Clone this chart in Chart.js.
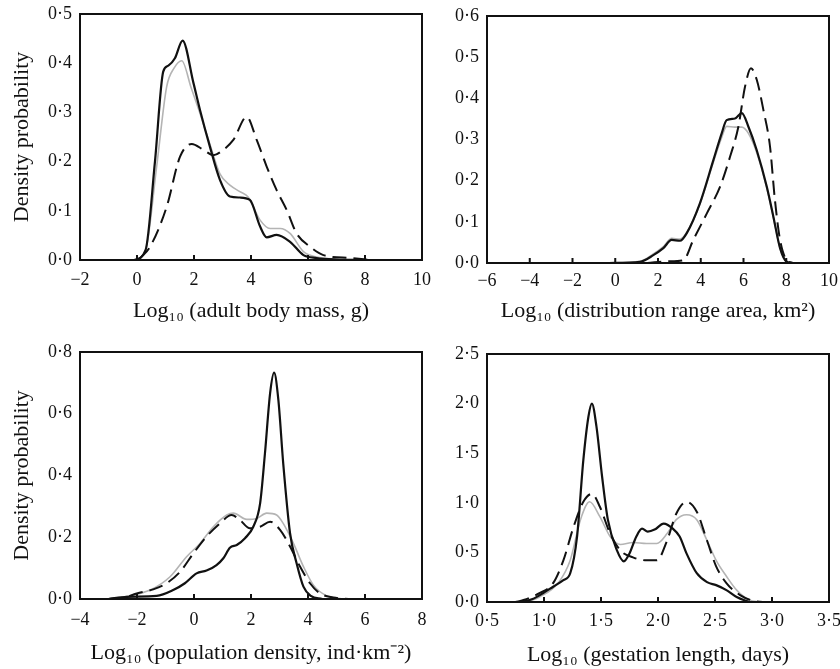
<!DOCTYPE html>
<html>
<head>
<meta charset="utf-8">
<script src="https://cdn.jsdelivr.net/npm/chart.js@4.4.0/dist/chart.umd.min.js"></script>
<style>
  html, body { margin: 0; padding: 0; background: #fff; }
  #wrap { position: relative; width: 840px; height: 669px; overflow: hidden; }
  canvas { position: absolute; }
</style>
</head>
<body>
<div id="wrap">
  <canvas id="c1" width="432" height="322" style="left:0;top:0"></canvas>
  <canvas id="c2" width="408" height="322" style="left:432px;top:0"></canvas>
  <canvas id="c3" width="432" height="347" style="left:0;top:322px"></canvas>
  <canvas id="c4" width="408" height="347" style="left:432px;top:322px"></canvas>
</div>
<script>
// Panel 1: adult body mass
var massSolidX = [-0.1, 0.3, 0.63, 0.92, 1.1, 1.33, 1.6, 1.98, 2.21, 2.56, 2.91, 3.26, 3.61, 3.96, 4.32, 4.55, 4.9, 5.37, 5.84, 6.3, 7.0, 8.0];
var massSolidY = [0, 0.02, 0.2, 0.383, 0.395, 0.41, 0.446, 0.36, 0.305, 0.23, 0.163, 0.129, 0.127, 0.122, 0.068, 0.046, 0.051, 0.037, 0.01, 0.004, 0.001, 0];
var massGreyX = [-0.1, 0.3, 0.69, 1.04, 1.3, 1.57, 1.9, 2.2, 2.56, 2.91, 3.26, 3.61, 3.9, 4.32, 4.67, 5.02, 5.37, 5.84, 6.3, 7.0, 8.0];
var massGreyY = [0, 0.02, 0.19, 0.352, 0.39, 0.405, 0.35, 0.3, 0.235, 0.175, 0.152, 0.139, 0.128, 0.081, 0.064, 0.064, 0.054, 0.017, 0.006, 0.002, 0];
var massDashX = [0.1, 0.46, 1.04, 1.51, 1.92, 2.33, 2.68, 3.03, 3.38, 3.85, 4.2, 4.55, 4.9, 5.25, 5.6, 6.07, 6.54, 7.5, 8.2];
var massDashY = [0.003, 0.027, 0.108, 0.21, 0.236, 0.224, 0.213, 0.224, 0.244, 0.291, 0.244, 0.19, 0.142, 0.102, 0.054, 0.027, 0.01, 0.004, 0];

// Panel 2: distribution range area
var rangeSolidX = [-0.3, 1.16, 1.78, 2.25, 2.64, 3.03, 3.34, 3.96, 4.59, 4.98, 5.21, 5.6, 5.92, 6.23, 6.62, 7.09, 7.4, 7.71, 8.02, 8.3];
var rangeSolidY = [0, 0.003, 0.019, 0.036, 0.056, 0.054, 0.072, 0.145, 0.25, 0.315, 0.347, 0.351, 0.364, 0.331, 0.274, 0.185, 0.112, 0.036, 0.003, 0];
var rangeGreyX = [-0.3, 1.16, 1.78, 2.25, 2.64, 3.03, 3.34, 3.96, 4.59, 4.98, 5.21, 5.6, 5.92, 6.23, 6.62, 7.09, 7.4, 7.71, 8.02, 8.3];
var rangeGreyY = [0, 0.004, 0.022, 0.04, 0.06, 0.058, 0.074, 0.143, 0.245, 0.305, 0.332, 0.33, 0.33, 0.315, 0.268, 0.182, 0.11, 0.036, 0.004, 0];
var rangeDashX = [1.5, 2.5, 3.19, 3.65, 4.28, 4.9, 5.37, 5.76, 6.07, 6.35, 6.62, 6.93, 7.24, 7.47, 7.71, 8.02, 8.3];
var rangeDashY = [0, 0.004, 0.007, 0.056, 0.12, 0.185, 0.258, 0.331, 0.428, 0.473, 0.445, 0.372, 0.283, 0.153, 0.056, 0.007, 0];

// Panel 3: population density
var popSolidX = [-3, -2.36, -1.31, -0.73, -0.32, 0.09, 0.44, 0.79, 1.03, 1.26, 1.5, 1.79, 2.08, 2.32, 2.49, 2.67, 2.81, 2.96, 3.13, 3.37, 3.6, 3.84, 4.1, 4.5];
var popSolidY = [0, 0.007, 0.01, 0.029, 0.051, 0.083, 0.092, 0.11, 0.132, 0.166, 0.175, 0.197, 0.234, 0.31, 0.472, 0.666, 0.733, 0.645, 0.44, 0.213, 0.116, 0.04, 0.01, 0];
var popGreyX = [-3, -2.3, -1.54, -0.84, -0.26, 0.21, 0.68, 1.15, 1.38, 1.85, 2.2, 2.55, 2.9, 3.13, 3.49, 3.84, 4.19, 4.66, 5.2];
var popGreyY = [0, 0.01, 0.029, 0.072, 0.137, 0.18, 0.234, 0.272, 0.278, 0.258, 0.261, 0.278, 0.272, 0.245, 0.18, 0.105, 0.045, 0.01, 0];
var popDashX = [-3, -2.36, -2.01, -1.43, -0.96, -0.49, -0.02, 0.44, 0.91, 1.32, 1.61, 1.96, 2.32, 2.67, 3.02, 3.37, 3.72, 4.07, 4.42, 4.89, 5.5];
var popDashY = [0, 0.007, 0.018, 0.031, 0.051, 0.088, 0.148, 0.202, 0.245, 0.272, 0.256, 0.229, 0.234, 0.25, 0.224, 0.17, 0.105, 0.051, 0.018, 0.005, 0];

// Panel 4: gestation length
var gestSolidX = [0.8, 0.9, 0.99, 1.08, 1.17, 1.23, 1.29, 1.345, 1.39, 1.42, 1.46, 1.51, 1.56, 1.64, 1.7, 1.75, 1.81, 1.86, 1.91, 1.97, 2.05, 2.13, 2.19, 2.25, 2.34, 2.43, 2.51, 2.6, 2.69, 2.8];
var gestSolidY = [0, 0.03, 0.088, 0.154, 0.22, 0.29, 0.66, 1.43, 1.87, 2.0, 1.77, 1.26, 0.83, 0.52, 0.41, 0.49, 0.66, 0.74, 0.71, 0.73, 0.79, 0.74, 0.66, 0.49, 0.29, 0.2, 0.17, 0.12, 0.05, 0];
var gestGreyX = [0.85, 0.96, 1.13, 1.23, 1.32, 1.4, 1.49, 1.58, 1.67, 1.78, 1.9, 1.99, 2.08, 2.16, 2.25, 2.34, 2.43, 2.51, 2.6, 2.69, 2.8, 2.9];
var gestGreyY = [0, 0.05, 0.2, 0.42, 0.83, 1.01, 0.86, 0.66, 0.58, 0.6, 0.59, 0.59, 0.69, 0.83, 0.88, 0.83, 0.62, 0.42, 0.26, 0.12, 0.02, 0];
var gestDashX = [0.75, 0.82, 0.96, 1.08, 1.17, 1.26, 1.345, 1.42, 1.49, 1.58, 1.67, 1.78, 1.9, 1.99, 2.08, 2.16, 2.25, 2.34, 2.43, 2.51, 2.6, 2.72, 2.84, 2.92];
var gestDashY = [0, 0.02, 0.09, 0.19, 0.42, 0.76, 1.01, 1.09, 0.96, 0.69, 0.52, 0.45, 0.42, 0.42, 0.62, 0.89, 1.01, 0.91, 0.62, 0.36, 0.19, 0.07, 0.01, 0];

var SERIF = "'Liberation Serif', 'Times New Roman', serif";

function zip(xs, ys) {
  return xs.map(function (x, i) { return { x: x, y: ys[i] }; });
}

// middle dot as decimal mark, proper minus sign
function fmt(value, decimals) {
  return value.toFixed(decimals).replace('.', '·').replace('-', '−');
}

// box around the plot and short inward ticks on the x axis
var framePlugin = {
  id: 'frame',
  afterDatasetsDraw: function (chart) {
    var ctx = chart.ctx;
    var a = chart.chartArea;
    var xs = chart.scales.x;
    ctx.save();
    ctx.strokeStyle = '#111';
    ctx.lineWidth = 2;
    ctx.beginPath();
    xs.ticks.forEach(function (t) {
      var px = xs.getPixelForValue(t.value);
      ctx.moveTo(px, a.bottom);
      ctx.lineTo(px, a.bottom - 5);
    });
    ctx.stroke();
    ctx.strokeRect(a.left, a.top, a.right - a.left, a.bottom - a.top);
    ctx.restore();
  },
};

function makePanel(id, p) {
  var datasets = [
    { data: zip(p.solid[0], p.solid[1]), borderColor: '#111', borderWidth: 2.2 },
    { data: zip(p.dash[0], p.dash[1]), borderColor: '#111', borderWidth: 2, borderDash: [14, 7] },
    { data: zip(p.grey[0], p.grey[1]), borderColor: '#b4b4b4', borderWidth: 1.6 },
  ];
  datasets.forEach(function (d) {
    d.pointRadius = 0;
    d.fill = false;
    d.cubicInterpolationMode = 'monotone';
  });

  return new Chart(document.getElementById(id), {
    type: 'line',
    data: { datasets: datasets },
    options: {
      responsive: false,
      animation: false,
      layout: { padding: { top: p.padTop, right: p.padRight, left: 0, bottom: 0 } },
      plugins: { legend: { display: false }, tooltip: { enabled: false } },
      scales: {
        x: {
          type: 'linear',
          min: p.xMin,
          max: p.xMax,
          grid: { display: false, drawTicks: false },
          border: { display: false },
          ticks: {
            stepSize: p.xStep,
            padding: p.xTickPad,
            color: '#111',
            font: { family: SERIF, size: 18 },
            maxRotation: 0,
            autoSkip: false,
            callback: function (v) { return fmt(v, p.xDec); },
          },
          title: {
            display: true,
            text: p.xTitle,
            color: '#111',
            font: { family: SERIF, size: 22, lineHeight: 1 },
            padding: { top: 0, bottom: p.xTitlePad },
          },
          afterFit: function (scale) {
            scale.height = p.xHeight;
            scale.paddingLeft = 0;
            scale.paddingRight = 0;
          },
        },
        y: {
          min: 0,
          max: p.yMax,
          grid: { display: false, drawTicks: false },
          border: { display: false },
          ticks: {
            stepSize: p.yStep,
            padding: 8,
            color: '#111',
            font: { family: SERIF, size: 18 },
            callback: function (v) { return fmt(v, 1); },
          },
          title: {
            display: !!p.yTitle,
            text: p.yTitle || '',
            color: '#111',
            font: { family: SERIF, size: 22, lineHeight: 1 },
            padding: { top: 11, bottom: 0 },
          },
          afterFit: function (scale) {
            scale.width = p.yWidth;
            scale.paddingTop = 0;
            scale.paddingBottom = 0;
          },
        },
      },
    },
    plugins: [framePlugin],
  });
}

makePanel('c1', {
  solid: [massSolidX, massSolidY], grey: [massGreyX, massGreyY], dash: [massDashX, massDashY],
  xMin: -2, xMax: 10, xStep: 2, xDec: 0, yMax: 0.5, yStep: 0.1,
  xTitle: 'Log₁₀ (adult body mass, g)', yTitle: 'Density probability',
  padTop: 14, padRight: 10, yWidth: 80, xHeight: 62, xTickPad: 9, xTitlePad: 0,
});

makePanel('c2', {
  solid: [rangeSolidX, rangeSolidY], grey: [rangeGreyX, rangeGreyY], dash: [rangeDashX, rangeDashY],
  xMin: -6, xMax: 10, xStep: 2, xDec: 0, yMax: 0.6, yStep: 0.1,
  xTitle: 'Log₁₀ (distribution range area, km²)', yTitle: null,
  padTop: 16, padRight: 11, yWidth: 55, xHeight: 59, xTickPad: 7, xTitlePad: 0,
});

makePanel('c3', {
  solid: [popSolidX, popSolidY], grey: [popGreyX, popGreyY], dash: [popDashX, popDashY],
  xMin: -4, xMax: 8, xStep: 2, xDec: 0, yMax: 0.8, yStep: 0.2,
  xTitle: 'Log₁₀ (population density, ind·km⁻²)', yTitle: 'Density probability',
  padTop: 30, padRight: 10, yWidth: 80, xHeight: 70, xTickPad: 10, xTitlePad: 5,
});

makePanel('c4', {
  solid: [gestSolidX, gestSolidY], grey: [gestGreyX, gestGreyY], dash: [gestDashX, gestDashY],
  xMin: 0.5, xMax: 3.5, xStep: 0.5, xDec: 1, yMax: 2.5, yStep: 0.5,
  xTitle: 'Log₁₀ (gestation length, days)', yTitle: null,
  padTop: 32, padRight: 11, yWidth: 55, xHeight: 67, xTickPad: 8, xTitlePad: 3,
});
</script>
</body>
</html>
